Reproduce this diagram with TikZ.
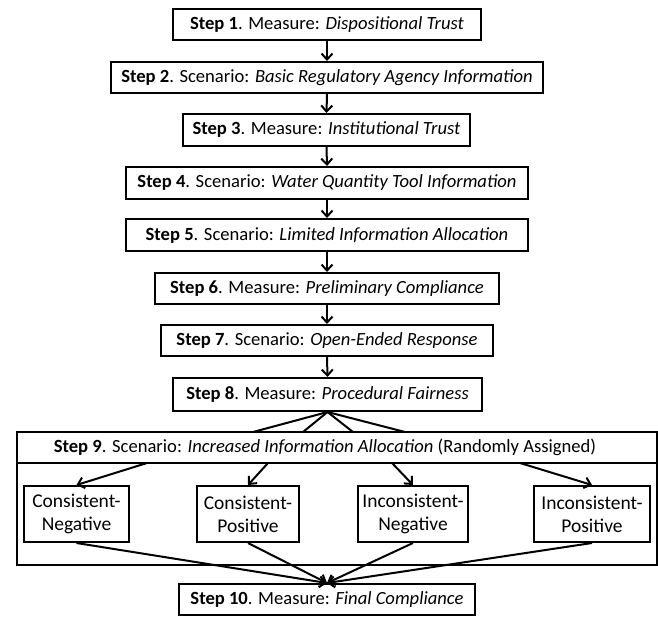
\documentclass[tikz,border=0pt]{standalone}
\usepackage{fontspec}
\setmainfont{Carlito}
\usetikzlibrary{arrows.meta}
\begin{document}
\begin{tikzpicture}[x=1pt,y=-1pt,
  stepbox/.style={draw, line width=2pt, inner sep=0pt, minimum height=31pt, font=\fontsize{18.6}{22}\selectfont},
  subbox/.style={draw, line width=2pt, inner sep=0pt, minimum height=56pt, align=center, font=\fontsize{19.5}{23}\selectfont},
  arr/.style={line width=2pt, -{Straight Barb[length=6pt,width=11pt,line width=2pt]}},
  fan/.style={line width=2pt}]
\useasboundingbox (0,0) rectangle (658,616);
\node[stepbox, minimum width=308pt] (s1) at (327,24.5) {\textbf{Step 1}. Measure: \textit{Dispositional Trust}};
\node[stepbox, minimum width=432pt] (s2) at (327,77.5) {\textbf{Step 2}. Scenario: \textit{Basic Regulatory Agency Information}};
\node[stepbox, minimum width=287pt, minimum height=32pt] (s3) at (326.5,130) {\textbf{Step 3}. Measure: \textit{Institutional Trust}};
\node[stepbox, minimum width=402pt, minimum height=32pt] (s4) at (327,183) {\textbf{Step 4}. Scenario: \textit{Water Quantity Tool Information}};
\node[stepbox, minimum width=402pt, minimum height=32pt] (s5) at (327,235) {\textbf{Step 5}. Scenario: \textit{Limited Information Allocation}};
\node[stepbox, minimum width=344pt] (s6) at (327,288.5) {\textbf{Step 6}. Measure: \textit{Preliminary Compliance}};
\node[stepbox, minimum width=332pt] (s7) at (327,340.5) {\textbf{Step 7}. Scenario: \textit{Open-Ended Response}};
\node[stepbox, minimum width=309pt, minimum height=33pt] (s8) at (327.5,394.5) {\textbf{Step 8}. Measure: \textit{Procedural Fairness}};
\node[draw, line width=2pt, inner sep=0pt, minimum width=640pt, minimum height=133pt] (s9) at (336.5,498.5) {};
\draw[line width=2pt] (s9.west |- 0,463) -- (s9.east |- 0,463);
\node[inner sep=0pt, font=\fontsize{18.6}{22}\selectfont] (s9t) at (325,447.5) {\textbf{Step 9}. Scenario: \textit{Increased Information Allocation} (Randomly Assigned)};
\node[subbox, minimum width=105pt] (cn) at (76.5,514) {Consistent-\\Negative};
\node[subbox, minimum width=102pt] (cp) at (248,514) {Consistent-\\Positive};
\node[subbox, minimum width=110pt] (in) at (413,514) {Inconsistent-\\Negative};
\node[subbox, minimum width=116pt] (ip) at (592,514) {Inconsistent-\\Positive};
\node[stepbox, minimum width=296pt] (s10) at (327,599.5) {\textbf{Step 10}. Measure: \textit{Final Compliance}};
\foreach \a/\b in {s1/s2,s2/s3,s3/s4,s4/s5,s5/s6,s6/s7,s7/s8}
  \draw[arr] (\a.south) -- (\b.north);
\coordinate (f1) at (253,432);
\coordinate (f2) at (303,432);
\coordinate (f3) at (353,432);
\coordinate (f4) at (405,432);
\foreach \f in {f1,f2,f3,f4}
  \draw[fan] (s8.south) -- (\f);
\coordinate (d1) at (147,463);
\coordinate (d2) at (268,463);
\coordinate (d3) at (392,463);
\coordinate (d4) at (520,463);
\draw[arr] (d1) -- (cn.north);
\draw[arr] (d2) -- (cp.north);
\draw[arr] (d3) -- (in.north);
\draw[arr] (d4) -- (ip.north);
\foreach \n in {cn,cp,in,ip}
  \draw[arr] (\n.south) -- (s10.north);
\end{tikzpicture}
\end{document}
